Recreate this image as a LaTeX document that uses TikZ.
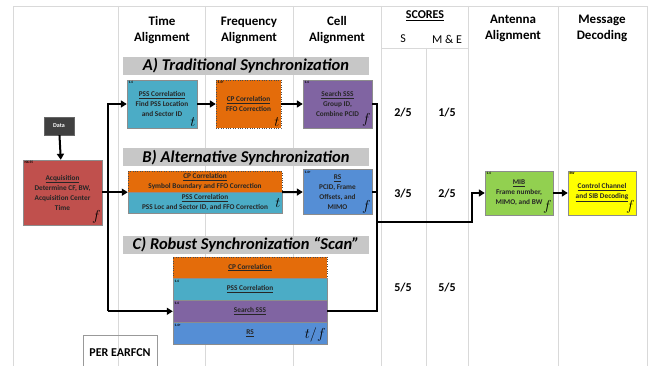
\documentclass[tikz,border=0pt]{standalone}
\usepackage{fontspec}
\setmainfont{Carlito}
\usetikzlibrary{arrows.meta,positioning}
\definecolor{pssc}{HTML}{4BACC6}
\definecolor{cpc}{HTML}{E46C0A}
\definecolor{sssc}{HTML}{8064A2}
\definecolor{rsc}{HTML}{558ED5}
\definecolor{mibc}{HTML}{92D050}
\definecolor{ctlc}{HTML}{FFFF00}
\definecolor{acqc}{HTML}{C0504D}
\definecolor{datac}{HTML}{404040}
\tikzset{blk/.style={draw=black!45,line width=0.4pt,align=center,inner sep=1pt,text=black!85,
    font=\fontsize{7.3}{10}\selectfont\bfseries},
  pssbox/.style={blk,fill=pssc},
  cpbox/.style={blk,fill=cpc,draw=black!70,dotted},
  sssbox/.style={blk,fill=sssc},
  rsbox/.style={blk,fill=rsc},
  tag/.style={font=\fontsize{3.5}{4}\selectfont\bfseries,inner sep=1.5pt,anchor=north west,solid},
  dom/.style={font=\fontsize{15}{15}\selectfont,inner sep=1.5pt,anchor=south east,solid},
  banner/.style={fill=black!22,minimum width=246,minimum height=18,inner sep=0pt,
    font=\fontsize{16.5}{16.5}\selectfont\bfseries\itshape},
  head/.style={align=center,font=\fontsize{13}{16}\selectfont\bfseries},
  score/.style={font=\fontsize{12}{12}\selectfont\bfseries},
  col/.style={draw=black!15,line width=0.6pt},
  wire/.style={line width=2pt},
  arr/.style={wire,-{Triangle[length=6pt,width=7pt]}}}

\begin{document}
\begin{tikzpicture}[x=1pt,y=-1pt]
\useasboundingbox (0,0) rectangle (655,366);
\fill[white] (0,0) rectangle (655,366);
\draw[col] (13,370) -- (13,6) -- (647,6) -- (647,370);
\foreach \x in {118,205,293,381,468,558} \draw[col] (\x,6) -- (\x,370);
\draw[col] (426,48) -- (426,370);
\draw[col] (381,48) -- (468,48);

\node[head] (hta) at (162,30) {Time\\Alignment};
\node[head] (hfa) at (249,30) {Frequency\\Alignment};
\node[head] (hca) at (337,30) {Cell\\Alignment};
\node[head] (haa) at (513,28) {Antenna\\Alignment};
\node[head] (hmd) at (602,28) {Message\\Decoding};
\node[score] (hsc) at (425,16) {\underline{SCORES}};
\node[font=\fontsize{12}{12}\selectfont] (hs) at (403,39) {S};
\node[font=\fontsize{12}{12}\selectfont] (hme) at (447,39) {M \& E};
\foreach \y/\s/\m in {113/2/1,194/3/2,288/5/5}{
  \node[score] (sa\y) at (403,\y) {\s/5};
  \node[score] (sm\y) at (447,\y) {\m/5};}

\node[banner] (ba) at (246,66) {A) Traditional Synchronization};
\node[banner] (bb) at (246,157.5) {B) Alternative Synchronization};
\node[banner] (bc) at (246,245) {C) Robust Synchronization ``Scan''};

\node[fill=datac,draw=black!60,text=white,font=\fontsize{6}{6}\selectfont\bfseries,
  minimum width=30,minimum height=18] (data) at (59,126) {Data};
\node[blk,fill=acqc,minimum width=79,minimum height=65,
  label={[tag]north west:NX.55},label={[dom]south east:$f$}] (acq) at (62.5,192.5)
  {\underline{Acquisition}\\Determine CF, BW,\\Acquisition Center\\Time};

\node[pssbox,minimum width=70,minimum height=48,
  label={[tag]north west:1.4},label={[dom]south east:$t$}] (ta) at (162,104)
  {\underline{PSS Correlation}\\Find PSS Location\\and Sector ID};
\node[cpbox,minimum width=65,minimum height=48,
  label={[tag]north west:1.4+},label={[dom]south east:$t$}] (tf) at (248.5,104)
  {\underline{CP Correlation}\\FFO Correction};
\node[sssbox,minimum width=69,minimum height=48,
  label={[tag]north west:1.4},label={[dom]south east:$f$}] (tc) at (337.5,104)
  {\underline{Search SSS}\\Group ID,\\Combine PCID};

\node[cpbox,minimum width=154,minimum height=21] (bcp) at (205,181.5)
  {\underline{CP Correlation}\\Symbol Boundary and FFO Correction};
\node[pssbox,minimum width=154,minimum height=21,below=0pt of bcp,
  label={[dom,anchor=east]east:$t$}] (bpss)
  {\underline{PSS Correlation}\\PSS Loc and Sector ID, and FFO Correction};
\node[rsbox,minimum width=69,minimum height=45,
  label={[tag]north west:1.4+},label={[dom]south east:$f$}] (br) at (337.5,192)
  {\underline{RS}\\PCID, Frame\\Offsets, and\\MIMO};

\node[cpbox,minimum width=154,minimum height=21.5] (cc) at (250,267.5) {\underline{CP Correlation}};
\node[pssbox,minimum width=154,minimum height=21.5,below=0pt of cc,
  label={[tag]north west:1.4}] (cp) {\underline{PSS Correlation}};
\node[sssbox,minimum width=154,minimum height=21.5,below=0pt of cp,
  label={[tag]north west:1.4}] (cs) {\underline{Search SSS}};
\node[rsbox,minimum width=154,minimum height=21.5,below=0pt of cs,
  label={[tag]north west:1.4+},label={[dom]south east:$t/f$}] (cr) {\underline{RS}};

\node[blk,fill=mibc,minimum width=68,minimum height=44,
  label={[tag]north west:1.4},label={[dom]south east:$f$}] (mib) at (519,193)
  {\underline{MIB}\\Frame number,\\MIMO, and BW};
\node[blk,fill=ctlc,minimum width=68,minimum height=44,
  label={[tag]north west:BW},label={[dom]south east:$f$}] (ctl) at (602,193)
  {\underline{Control Channel}\\\underline{and SIB Decoding}};

\node[draw=black!40,font=\fontsize{12}{12}\selectfont\bfseries,
  minimum width=74,minimum height=36] (per) at (120,353) {PER EARFCN};

\coordinate (lx) at (108,0);
\coordinate (rx) at (377,0);
\coordinate (jn) at (377,222);
\coordinate (kn) at (472,222);
\draw[arr] (data) -- (acq);
\draw[arr] (acq.east |- bcp.south west) -- (bcp.south west);
\draw[arr] (lx |- cs.west) |- (ta.west);
\draw[arr] (lx |- cs.west) -- (cs.west);
\draw[arr] (ta) -- (tf);
\draw[arr] (tf) -- (tc);
\draw[arr] (bcp.south east) -- (br.west);
\draw[wire] (tc.east) -| (rx |- cs.east) -- (cs.east);
\draw[wire] (br.east) -- (rx |- br.east);
\draw[arr] (jn) -- (kn) |- (mib.west);
\draw[arr] (mib) -- (ctl);
\end{tikzpicture}
\end{document}
